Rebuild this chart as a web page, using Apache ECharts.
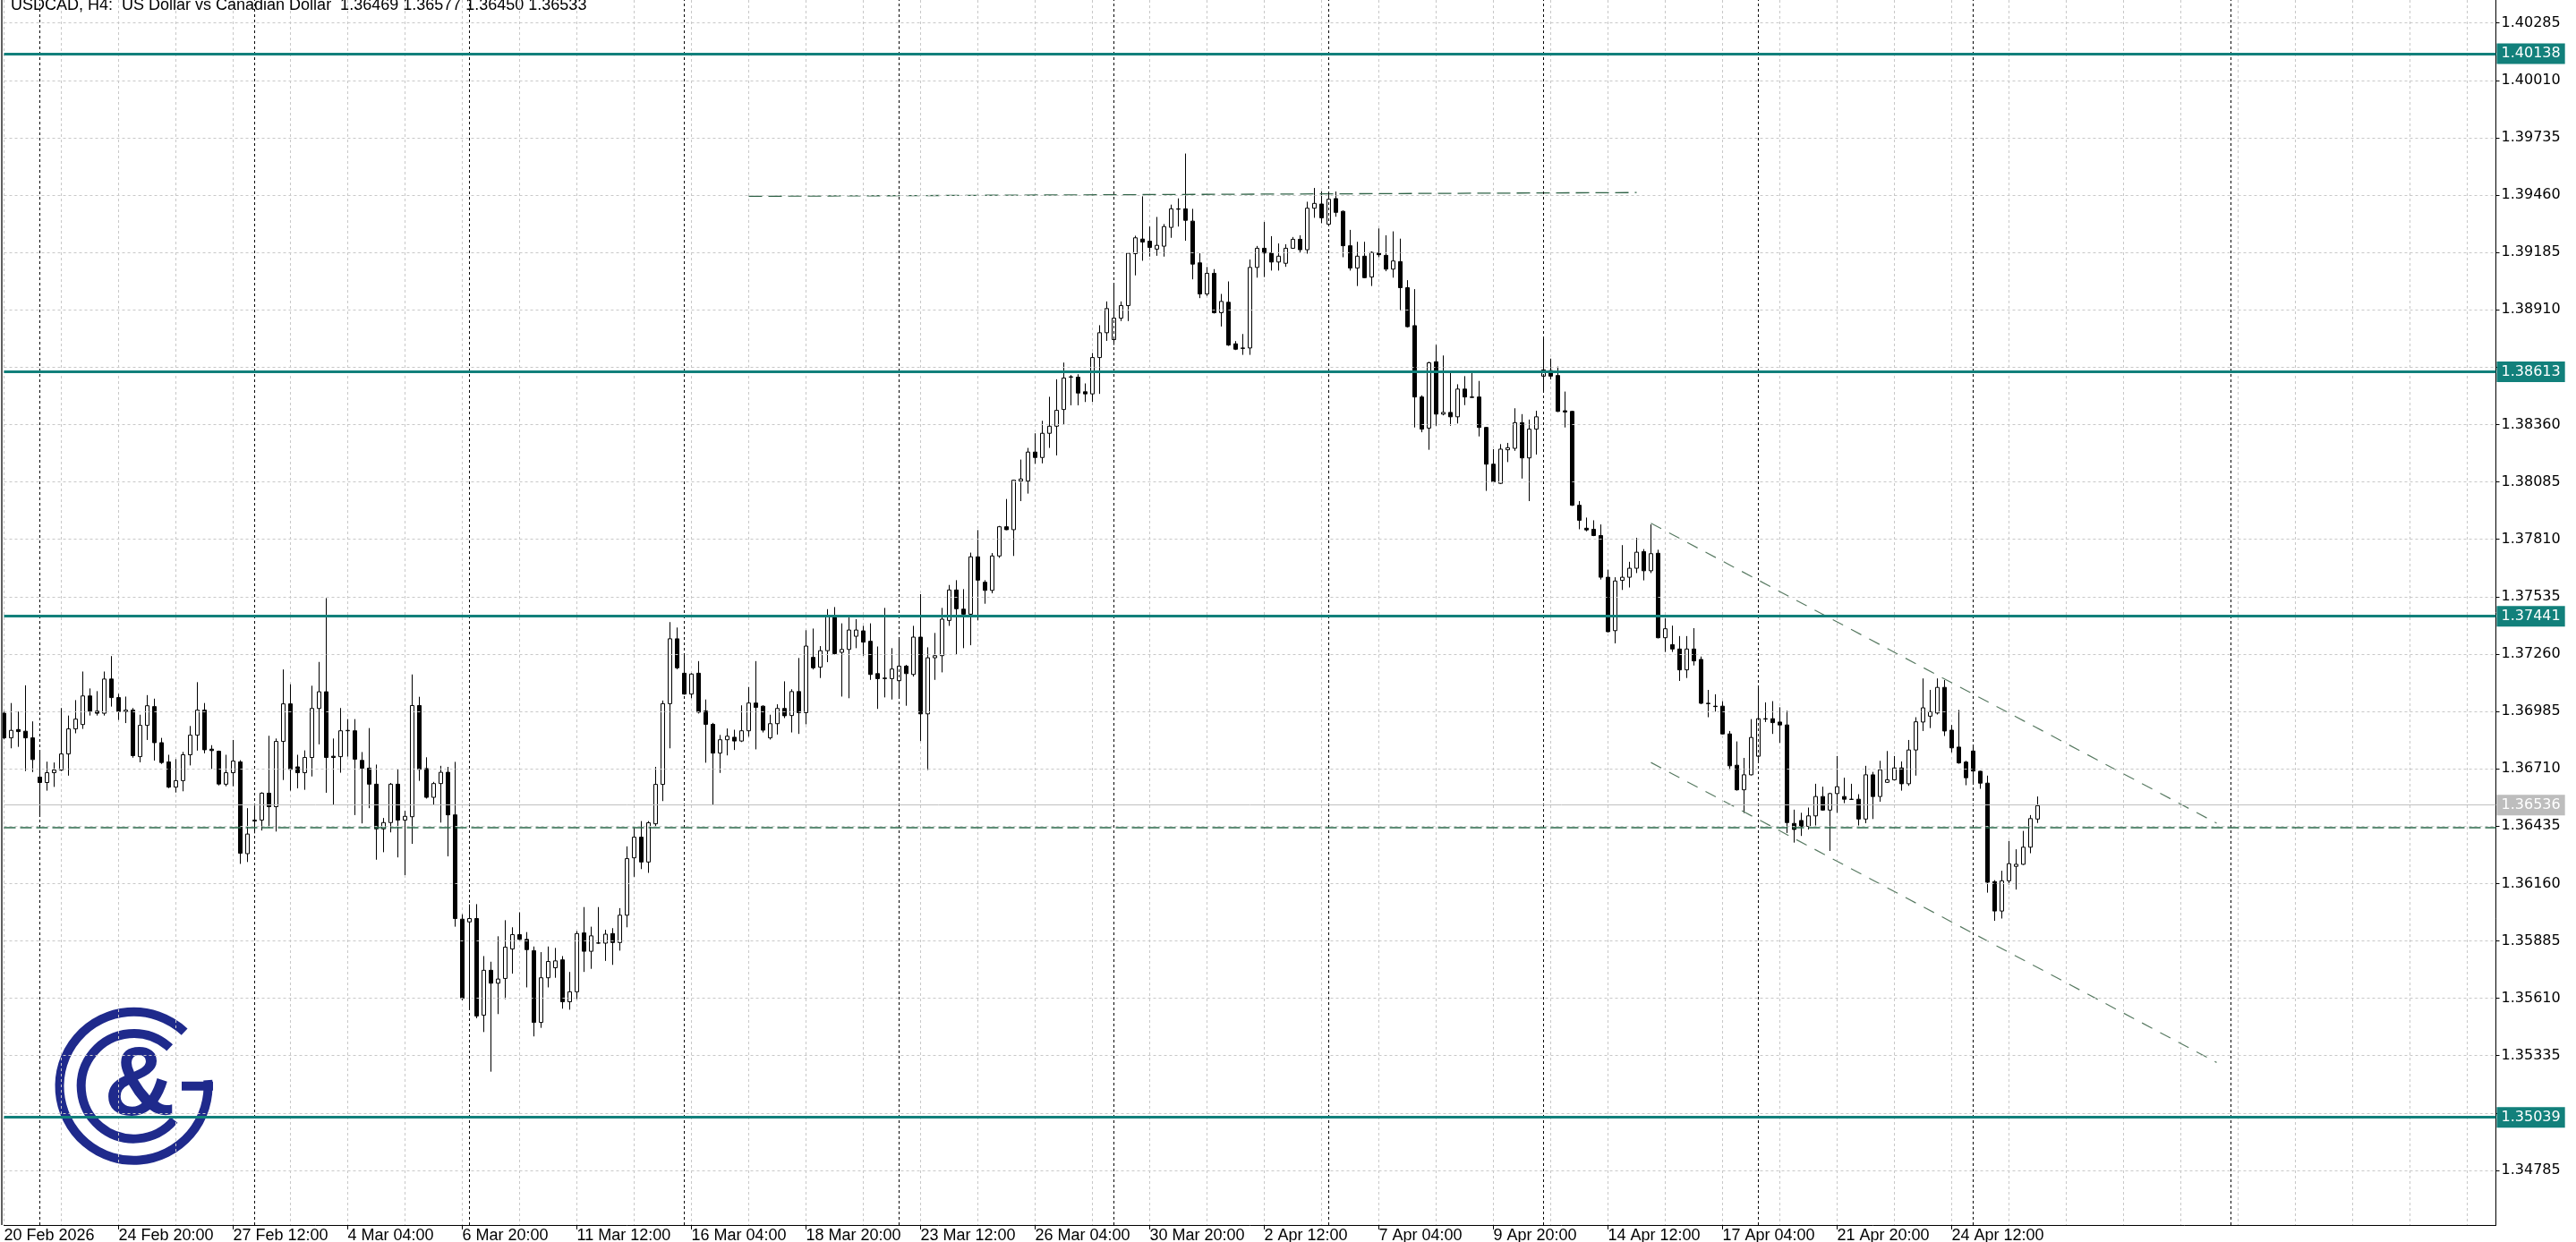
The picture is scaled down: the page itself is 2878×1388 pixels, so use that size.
<!DOCTYPE html>
<html>
<head>
<meta charset="utf-8">
<script src="https://cdn.jsdelivr.net/npm/echarts@6/dist/echarts.min.js"></script>
<style>
html,body{margin:0;padding:0;background:#fff;}
#chart{width:2878px;height:1388px;}
</style>
</head>
<body>
<div id="chart"></div>
<script>
// ---------------- DATA ----------------
const symbolTitle = 'USDCAD, H4:  US Dollar vs Canadian Dollar  1.36469 1.36577 1.36450 1.36533';
const firstBarUTC = Date.UTC(2026, 1, 20, 4, 0); // 20 Feb 2026 04:00, H4 bars, weekdays only
const totalSlots = 349;      // bars + empty right shift area
const lastLabelIndex = 272;  // last time label shown (24 Apr 12:00)

const openPrices = [
1.36976,1.36858,1.36898,1.36890,1.36858,1.36670,1.36644,1.36691,1.36704,1.36781,
1.36901,1.36922,1.37059,1.36986,1.36976,1.37140,1.37051,1.36984,1.36991,1.36768,
1.36918,1.37008,1.36835,1.36743,1.36622,1.36653,1.36777,1.36871,1.36991,1.36804,
1.36794,1.36636,1.36691,1.36743,1.36303,1.36459,1.36464,1.36593,1.36528,1.36841,
1.37021,1.36719,1.36691,1.36764,1.36999,1.37079,1.36770,1.36768,1.36892,1.36892,
1.36750,1.36713,1.36636,1.36422,1.36452,1.36636,1.36464,1.36480,1.37013,1.36711,
1.36573,1.36639,1.36693,1.36489,1.35989,1.35976,1.35992,1.35529,1.35744,1.35682,
1.35705,1.35846,1.35915,1.35892,1.35838,1.35494,1.35708,1.35756,1.35794,1.35593,
1.35641,1.35923,1.35835,1.35874,1.35874,1.35920,1.35877,1.36008,1.36283,1.36382,
1.36263,1.36446,1.36635,1.37022,1.37333,1.37168,1.37068,1.37168,1.36987,1.36923,
1.36785,1.36849,1.36861,1.36843,1.36892,1.37025,1.37010,1.36858,1.36926,1.36999,
1.36965,1.37080,1.36979,1.37244,1.37197,1.37276,1.37435,1.37268,1.37282,1.37345,
1.37371,1.37321,1.37166,1.37142,1.37142,1.37132,1.37202,1.37162,1.37341,1.36973,
1.37242,1.37252,1.37421,1.37567,1.37475,1.37451,1.37726,1.37604,1.37565,1.37730,
1.37870,1.37856,1.38089,1.38089,1.38228,1.38202,1.38318,1.38352,1.38432,1.38587,
1.38587,1.38517,1.38507,1.38681,1.38800,1.38767,1.38870,1.38930,1.39179,1.39249,
1.39239,1.39201,1.39215,1.39305,1.39392,1.39394,1.39335,1.39135,1.38986,1.39085,
1.38896,1.38946,1.38747,1.38727,1.38727,1.39113,1.39205,1.39182,1.39139,1.39133,
1.39205,1.39248,1.39198,1.39397,1.39417,1.39320,1.39443,1.39382,1.39217,1.39110,
1.39167,1.39067,1.39182,1.39171,1.39105,1.39141,1.39016,1.38834,1.38492,1.38343,
1.38661,1.38410,1.38418,1.38397,1.38530,1.38492,1.38492,1.38346,1.38170,1.38078,
1.38239,1.38246,1.38369,1.38200,1.38338,1.38592,1.38619,1.38595,1.38426,1.38423,
1.37973,1.37863,1.37858,1.37828,1.37628,1.37372,1.37613,1.37628,1.37671,1.37751,
1.37659,1.37743,1.37338,1.37305,1.37284,1.37184,1.37284,1.37234,1.37024,1.37010,
1.37010,1.36877,1.36727,1.36609,1.36681,1.36770,1.36948,1.36950,1.36934,1.36920,
1.36448,1.36462,1.36434,1.36484,1.36577,1.36512,1.36591,1.36577,1.36564,1.36564,
1.36469,1.36681,1.36577,1.36645,1.36657,1.36714,1.36638,1.36800,1.36934,1.36962,
1.36977,1.37100,1.36895,1.36814,1.36742,1.36795,1.36698,1.36641,1.36169,1.36028,
1.36173,1.36242,1.36252,1.36334,1.36469
];
const highPrices = [
1.36986,1.37025,1.36984,1.37110,1.36937,1.36798,1.36744,1.36740,1.37001,1.36965,
1.37039,1.37176,1.37095,1.37082,1.37176,1.37250,1.37069,1.37056,1.37001,1.36969,
1.37063,1.37046,1.36858,1.36777,1.36756,1.36791,1.36915,1.37125,1.37025,1.36823,
1.36797,1.36777,1.36848,1.36751,1.36521,1.36530,1.36597,1.36868,1.36855,1.37186,
1.37115,1.36777,1.36798,1.37108,1.37222,1.37528,1.36855,1.37001,1.36948,1.36948,
1.36790,1.36905,1.36730,1.36474,1.36642,1.36709,1.36509,1.37162,1.37055,1.36765,
1.36647,1.36724,1.36719,1.36743,1.36012,1.36060,1.36061,1.35812,1.35785,1.35907,
1.35984,1.35950,1.36022,1.35927,1.35858,1.35831,1.35858,1.35851,1.35812,1.35736,
1.35932,1.36047,1.35953,1.36047,1.35938,1.35946,1.36042,1.36338,1.36428,1.36459,
1.36459,1.36719,1.37037,1.37413,1.37387,1.37259,1.37168,1.37226,1.37042,1.36930,
1.36872,1.36903,1.36897,1.37014,1.37102,1.37226,1.37014,1.36969,1.37019,1.37129,
1.37091,1.37241,1.37374,1.37382,1.37298,1.37475,1.37485,1.37407,1.37435,1.37427,
1.37395,1.37407,1.37296,1.37481,1.37288,1.37341,1.37208,1.37395,1.37547,1.37292,
1.37361,1.37481,1.37591,1.37614,1.37571,1.37746,1.37854,1.37614,1.37744,1.37874,
1.38003,1.38095,1.38192,1.38248,1.38318,1.38378,1.38493,1.38577,1.38657,1.38597,
1.38601,1.38557,1.38703,1.38836,1.38950,1.39036,1.38950,1.39185,1.39265,1.39454,
1.39309,1.39355,1.39321,1.39414,1.39444,1.39659,1.39394,1.39181,1.39115,1.39105,
1.38986,1.39046,1.38760,1.38794,1.39151,1.39216,1.39331,1.39263,1.39228,1.39224,
1.39259,1.39267,1.39428,1.39494,1.39478,1.39474,1.39477,1.39386,1.39293,1.39236,
1.39236,1.39190,1.39300,1.39267,1.39286,1.39251,1.39052,1.39009,1.38500,1.38661,
1.38742,1.38691,1.38607,1.38553,1.38592,1.38607,1.38569,1.38349,1.38242,1.38266,
1.38272,1.38438,1.38410,1.38384,1.38426,1.38779,1.38676,1.38638,1.38518,1.38426,
1.37993,1.37914,1.37901,1.37881,1.37664,1.37628,1.37782,1.37702,1.37817,1.37763,
1.37881,1.37760,1.37431,1.37396,1.37346,1.37346,1.37384,1.37248,1.37088,1.37067,
1.37034,1.36891,1.36841,1.36762,1.36948,1.37107,1.37028,1.37034,1.37005,1.36988,
1.36514,1.36499,1.36524,1.36638,1.36624,1.36595,1.36771,1.36667,1.36638,1.36588,
1.36724,1.36695,1.36748,1.36795,1.36771,1.36745,1.36848,1.36957,1.37143,1.37088,
1.37143,1.37135,1.36920,1.36992,1.36748,1.36824,1.36700,1.36677,1.36176,1.36221,
1.36364,1.36324,1.36412,1.36488,1.36577
];
const lowPrices = [
1.36851,1.36808,1.36815,1.36699,1.36694,1.36481,1.36605,1.36623,1.36699,1.36677,
1.36880,1.36901,1.36965,1.36965,1.36965,1.37008,1.36944,1.36929,1.36763,1.36741,
1.36848,1.36749,1.36733,1.36617,1.36596,1.36602,1.36726,1.36797,1.36784,1.36709,
1.36630,1.36626,1.36626,1.36254,1.36263,1.36400,1.36414,1.36428,1.36409,1.36656,
1.36605,1.36616,1.36609,1.36673,1.36827,1.36595,1.36538,1.36691,1.36768,1.36488,
1.36448,1.36521,1.36274,1.36310,1.36405,1.36285,1.36200,1.36350,1.36652,1.36567,
1.36535,1.36452,1.36290,1.35953,1.35601,1.35560,1.35514,1.35448,1.35258,1.35534,
1.35606,1.35728,1.35889,1.35662,1.35427,1.35468,1.35662,1.35708,1.35560,1.35555,
1.35606,1.35736,1.35751,1.35871,1.35789,1.35770,1.35838,1.35950,1.36192,1.36229,
1.36211,1.36433,1.36555,1.36808,1.37187,1.37065,1.37048,1.36975,1.36739,1.36537,
1.36690,1.36774,1.36800,1.36838,1.36864,1.36803,1.36884,1.36850,1.36874,1.36953,
1.36884,1.36877,1.36923,1.37186,1.37145,1.37221,1.37258,1.37056,1.37048,1.37288,
1.37252,1.37136,1.36997,1.37052,1.37042,1.37048,1.37012,1.37152,1.36843,1.36704,
1.37136,1.37172,1.37395,1.37256,1.37288,1.37302,1.37421,1.37501,1.37551,1.37721,
1.37854,1.37730,1.37993,1.38029,1.38172,1.38174,1.38248,1.38212,1.38358,1.38452,
1.38452,1.38468,1.38468,1.38507,1.38761,1.38741,1.38856,1.38856,1.39075,1.39145,
1.39165,1.39169,1.39165,1.39255,1.39309,1.39241,1.39056,1.38966,1.38976,1.38892,
1.38830,1.38737,1.38717,1.38694,1.38694,1.39064,1.39067,1.39098,1.39098,1.39116,
1.39202,1.39185,1.39179,1.39351,1.39325,1.39317,1.39356,1.39162,1.39098,1.39024,
1.39061,1.39024,1.39162,1.39095,1.39064,1.38906,1.38825,1.38346,1.38323,1.38239,
1.38354,1.38404,1.38354,1.38365,1.38453,1.38489,1.38303,1.38042,1.38082,1.38075,
1.38180,1.38234,1.38101,1.37993,1.38216,1.38515,1.38576,1.38420,1.38346,1.37970,
1.37858,1.37848,1.37825,1.37617,1.37364,1.37311,1.37567,1.37579,1.37648,1.37613,
1.37648,1.37335,1.37270,1.37270,1.37131,1.37145,1.37205,1.37020,1.36957,1.36984,
1.36874,1.36705,1.36605,1.36498,1.36678,1.36745,1.36934,1.36877,1.36834,1.36402,
1.36356,1.36388,1.36419,1.36438,1.36509,1.36316,1.36499,1.36545,1.36562,1.36438,
1.36449,1.36469,1.36552,1.36642,1.36654,1.36605,1.36628,1.36677,1.36891,1.36905,
1.36970,1.36867,1.36788,1.36734,1.36631,1.36638,1.36614,1.36116,1.35981,1.35992,
1.36155,1.36131,1.36249,1.36305,1.36450
];
const closePrices = [
1.36858,1.36894,1.36888,1.36858,1.36754,1.36644,1.36691,1.36704,1.36781,1.36901,
1.36948,1.37059,1.36986,1.36976,1.37140,1.37051,1.36984,1.36991,1.36773,1.36918,
1.37012,1.36835,1.36740,1.36622,1.36653,1.36777,1.36871,1.36991,1.36801,1.36797,
1.36637,1.36691,1.36747,1.36305,1.36397,1.36464,1.36593,1.36528,1.36841,1.37021,
1.36707,1.36691,1.36764,1.36999,1.37079,1.36764,1.36764,1.36892,1.36894,1.36756,
1.36713,1.36636,1.36422,1.36452,1.36636,1.36464,1.36482,1.37013,1.36707,1.36573,
1.36639,1.36693,1.36489,1.35992,1.35609,1.35992,1.35525,1.35744,1.35682,1.35702,
1.35855,1.35915,1.35892,1.35843,1.35494,1.35708,1.35786,1.35789,1.35593,1.35641,
1.35920,1.35835,1.35909,1.35875,1.35917,1.35877,1.36008,1.36279,1.36382,1.36263,
1.36451,1.36635,1.37022,1.37333,1.37194,1.37068,1.37164,1.36981,1.36923,1.36785,
1.36849,1.36866,1.36843,1.36892,1.37025,1.37004,1.36895,1.36926,1.36999,1.36964,
1.37080,1.36979,1.37298,1.37194,1.37276,1.37438,1.37262,1.37282,1.37375,1.37375,
1.37317,1.37162,1.37142,1.37145,1.37188,1.37202,1.37166,1.37341,1.36973,1.37242,
1.37252,1.37427,1.37567,1.37477,1.37451,1.37726,1.37614,1.37565,1.37730,1.37870,
1.37856,1.38093,1.38099,1.38228,1.38202,1.38318,1.38352,1.38428,1.38583,1.38589,
1.38511,1.38507,1.38681,1.38800,1.38916,1.38870,1.38930,1.39181,1.39255,1.39235,
1.39209,1.39219,1.39309,1.39394,1.39394,1.39339,1.39129,1.38986,1.39085,1.38896,
1.38950,1.38741,1.38721,1.38725,1.39113,1.39205,1.39182,1.39139,1.39167,1.39205,
1.39248,1.39198,1.39397,1.39420,1.39351,1.39440,1.39377,1.39217,1.39110,1.39167,
1.39064,1.39185,1.39174,1.39105,1.39144,1.39016,1.38829,1.38492,1.38338,1.38656,
1.38410,1.38418,1.38397,1.38530,1.38492,1.38490,1.38346,1.38170,1.38085,1.38242,
1.38249,1.38369,1.38200,1.38338,1.38397,1.38622,1.38592,1.38423,1.38420,1.37973,
1.37901,1.37855,1.37828,1.37628,1.37367,1.37610,1.37628,1.37671,1.37748,1.37659,
1.37741,1.37338,1.37381,1.37284,1.37184,1.37284,1.37227,1.37024,1.37022,1.37008,
1.36877,1.36724,1.36609,1.36681,1.36860,1.36950,1.36950,1.36931,1.36920,1.36452,
1.36419,1.36434,1.36484,1.36577,1.36512,1.36591,1.36624,1.36564,1.36563,1.36469,
1.36681,1.36577,1.36705,1.36657,1.36714,1.36638,1.36800,1.36935,1.37002,1.36984,
1.37100,1.36891,1.36810,1.36738,1.36667,1.36699,1.36641,1.36166,1.36028,1.36173,
1.36255,1.36252,1.36334,1.36471,1.36533
];

// price axis
const yTickValues = [1.34785,1.35060,1.35335,1.35610,1.35885,1.36160,1.36435,1.36710,1.36985,1.37260,1.37535,1.37810,1.38085,1.38360,1.38635,1.38910,1.39185,1.39460,1.39735,1.40010,1.40285];
const yLabelValues = [1.34785,1.35335,1.35610,1.35885,1.36160,1.36435,1.36710,1.36985,1.37260,1.37535,1.37810,1.38085,1.38360,1.38910,1.39185,1.39460,1.39735,1.40010,1.40285];
const yMin = 1.34523, yMax = 1.40395;

// drawn objects
const levelLines = [1.40138, 1.38613, 1.37441, 1.35039];
const bidPrice = 1.36536;
const supportDashed = 1.36427;
const resistanceLine = [[104, 1.39454], [228, 1.39472]];
const channelUpper = [[230, 1.37887], [309, 1.36449]];
const channelLower = [[230, 1.36740], [309, 1.35302]];
const weekSeparators = [5, 35, 65, 95, 125, 155, 185, 215, 245, 275, 311];

// ---------------- BUILD ----------------
const MONTHS = ['Jan','Feb','Mar','Apr','May','Jun','Jul','Aug','Sep','Oct','Nov','Dec'];
function pad(n){ return (n < 10 ? '0' : '') + n; }
const timeLabels = [];
(function(){
  let t = firstBarUTC;
  while (timeLabels.length < totalSlots) {
    const d = new Date(t);
    const wd = d.getUTCDay();
    if (wd !== 0 && wd !== 6) {
      if (timeLabels.length === 0) timeLabels.push(d.getUTCDate() + ' ' + MONTHS[d.getUTCMonth()] + ' ' + d.getUTCFullYear());
      else timeLabels.push(d.getUTCDate() + ' ' + MONTHS[d.getUTCMonth()] + ' ' + pad(d.getUTCHours()) + ':' + pad(d.getUTCMinutes()));
    }
    t += 4 * 3600 * 1000;
  }
})();

const candleData = openPrices.map((o, i) => [o, closePrices[i], lowPrices[i], highPrices[i]]);

const TEAL = '#12807b';
const NAVY = '#1f2a8c';
const LABELFONT = "'Liberation Sans',Arial,sans-serif";
const AXISFONT = "'DejaVu Sans',Verdana,sans-serif";

const chart = echarts.init(document.getElementById('chart'), null, {renderer: 'canvas'});

const boxLabel = (txt, bg) => ({show: true, position: 'end', distance: 1, formatter: txt, color: '#fff',
  backgroundColor: bg, padding: [4, 5, 3, 5], fontFamily: AXISFONT, fontSize: 16});

const option = {
  animation: false,
  backgroundColor: '#ffffff',
  grid: {left: 4.5, right: 89.5, top: 0, bottom: 19, containLabel: false, outerBoundsMode: 'none'},
  xAxis: {
    type: 'category',
    data: timeLabels,
    boundaryGap: false,
    axisLine: {show: true, onZero: false, lineStyle: {color: '#000', width: 1}},
    axisTick: {show: true, length: 5, interval: (i) => i > 0 && i <= lastLabelIndex && i % 16 === 0, lineStyle: {color: '#000'}},
    axisLabel: {show: true, interval: (i) => i <= lastLabelIndex && i % 16 === 0, align: 'left', margin: 3,
      color: '#000', fontFamily: LABELFONT, fontSize: 18, hideOverlap: false},
    splitLine: {show: true, interval: (i) => i % 8 === 0, lineStyle: {color: '#c8c8c8', type: [3, 3], width: 1}}
  },
  yAxis: {
    type: 'value',
    position: 'right',
    min: yMin, max: yMax,
    axisLine: {show: true, onZero: false, lineStyle: {color: '#000', width: 1}},
    axisTick: {show: true, length: 4, customValues: yTickValues, lineStyle: {color: '#000'}},
    axisLabel: {show: true, customValues: yLabelValues, formatter: (v) => Number(v).toFixed(5), margin: 6,
      color: '#000', fontFamily: AXISFONT, fontSize: 16},
    splitLine: {show: false}
  },
  series: [
    { // horizontal grid lines
      type: 'line', data: [], z: 1, silent: true,
      markLine: {silent: true, precision: 5, symbol: ['none','none'], animation: false, label: {show: false},
        lineStyle: {color: '#c8c8c8', type: [3, 3], width: 1},
        data: yTickValues.map(v => ({yAxis: v}))}
    },
    { // week separators
      type: 'line', data: [], z: 2, silent: true,
      markLine: {silent: true, precision: 5, symbol: ['none','none'], animation: false, label: {show: false},
        lineStyle: {color: '#000', type: [3, 3], width: 1},
        data: weekSeparators.map(v => ({xAxis: v}))}
    },
    {
      type: 'candlestick', name: 'USDCAD', z: 3, clip: false,
      barWidth: 4,
      data: candleData,
      itemStyle: {color: '#ffffff', color0: '#000000', borderColor: '#000000', borderColor0: '#000000', borderColorDoji: '#000000', borderWidth: 1}
    },
    { // levels, bid line, dashed support
      type: 'line', data: [], z: 4, silent: true,
      markLine: {silent: true, precision: 5, symbol: ['none','none'], animation: false,
        data: [
          {yAxis: bidPrice, lineStyle: {color: '#c0c0c0', type: 'solid', width: 1}, label: boxLabel(bidPrice.toFixed(5), '#bdbdbd')},
          {yAxis: supportDashed, lineStyle: {color: '#2b6a4b', type: [13, 5], width: 1.5}, label: {show: false}}
        ].concat(levelLines.map(v => ({yAxis: v, lineStyle: {color: TEAL, type: 'solid', width: 3}, label: boxLabel(v.toFixed(5), TEAL)})))
      }
    },
    {type: 'line', data: resistanceLine, z: 4, symbol: 'none', silent: true, lineStyle: {color: '#2f6246', width: 1.3, type: [15, 7]}},
    {type: 'line', data: channelUpper, z: 4, symbol: 'none', silent: true, lineStyle: {color: '#587a62', width: 1.2, type: [13, 10]}},
    {type: 'line', data: channelLower, z: 4, symbol: 'none', silent: true, lineStyle: {color: '#587a62', width: 1.2, type: [13, 10]}}
  ],
  graphic: [
    {type: 'line', shape: {x1: 2, y1: 0, x2: 2, y2: 1369}, style: {stroke: '#606060', lineWidth: 2}, z: 10},
    {type: 'text', left: 12, top: -3, z: 10,
      style: {text: symbolTitle, font: "18px 'Liberation Sans',Arial,sans-serif", fill: '#000'}},
    {type: 'group', z: 10, children: [
      {type: 'arc', shape: {cx: 149.5, cy: 1213.8, r: 83, startAngle: -0.08, endAngle: 313 * Math.PI / 180, clockwise: true},
        style: {stroke: NAVY, lineWidth: 10, fill: null}},
      {type: 'arc', shape: {cx: 149.5, cy: 1213.8, r: 58.8, startAngle: 40 * Math.PI / 180, endAngle: 313 * Math.PI / 180, clockwise: true},
        style: {stroke: NAVY, lineWidth: 10, fill: null}},
      {type: 'rect', shape: {x: 203, y: 1208.8, width: 35, height: 10}, style: {fill: NAVY}},
      {type: 'text', style: {text: '&', x: 156, y: 1216, font: "bold 110px 'Liberation Sans',sans-serif", fill: NAVY, textAlign: 'center', textVerticalAlign: 'middle'}}
    ]}
  ]
};
chart.setOption(option);
</script>
</body>
</html>
